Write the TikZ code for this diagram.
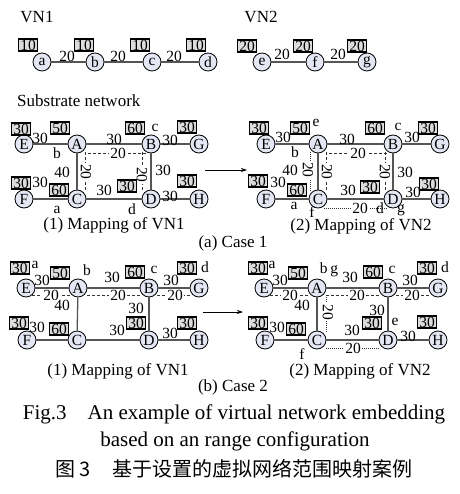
\documentclass[tikz,border=0pt]{standalone}
\usepackage{fontspec}
\setmainfont{Liberation Serif}
\newfontfamily\cjk{Noto Sans CJK SC}
\usetikzlibrary{calc,arrows.meta}
\definecolor{nodefill}{HTML}{E4E7F3}
\definecolor{boxfill}{HTML}{DCDCDC}
\definecolor{linkc}{HTML}{555555}
\newcommand\fs[1]{\fontsize{#1}{#1}\selectfont}
\begin{document}
\begin{tikzpicture}[x=1pt,y=-1pt,
 sn/.style={circle,draw=black,line width=0.8pt,fill=nodefill,minimum size=18pt,inner sep=0pt,font=\fs{15.5}},
 capbox/.style={draw=black,line width=1.1pt,fill=boxfill,inner xsep=1.5pt,inner ysep=0.8pt,font=\fs{15.5}},
 lk/.style={draw=linkc,line width=1.3pt},
 vl/.style={draw=black!80,line width=0.8pt,dash pattern=on 3pt off 2pt},
 vdt/.style={draw=black!80,line width=0.8pt,dash pattern=on 1pt off 1pt},
 num/.style={font=\fs{15.5},inner sep=0pt},
 dnum/.style={num,fill=white,inner xsep=1pt},
 vnum/.style={num,fill=white,rotate=-90,inner xsep=1pt},
 ttl/.style={font=\fs{17},inner sep=0pt},
 capt/.style={font=\fs{21},inner sep=0pt},
 arr/.style={draw=black,line width=0.8pt,-{Stealth[length=6pt,width=4pt]}}
]
\useasboundingbox (0,0) rectangle (459,494);
% ---------------- VN1
\node[ttl] (t1) at (37,17) {VN1};
\node[sn] (va) at (42,62) {a};
\node[sn] (vb) at (95,62) {b};
\node[sn] (vc) at (152,62) {c};
\node[sn] (vd) at (208,62) {d};
\draw[lk] (va) -- (vb); \draw[lk] (vb) -- (vc); \draw[lk] (vc) -- (vd);
\node[capbox] (ka) at (28,45) {10};
\node[capbox] (kb) at (84,45) {10};
\node[capbox] (kc) at (140,45) {10};
\node[capbox] (kd) at (196,45) {10};
\node[num] (lab) at (67,56) {20};
\node[num] (lbc) at (118,56) {20};
\node[num] (lcd) at (174,56) {20};
% ---------------- VN2
\node[ttl] (t2) at (261,17) {VN2};
\node[sn] (ve) at (262,62) {e};
\node[sn] (vf) at (315,62) {f};
\node[sn] (vg) at (367,62) {g};
\draw[lk] (ve) -- (vf); \draw[lk] (vf) -- (vg);
\node[capbox] (ke) at (247,46) {20};
\node[capbox] (kf) at (303,46) {20};
\node[capbox] (kg) at (357,46) {20};
\node[num] (lef) at (282,54) {20};
\node[num] (lfg) at (338,54) {20};
\node[ttl,anchor=west] (sub) at (17,101) {Substrate network};
% ---------------- Case 1 left
\node[sn] (pE) at (24,144) {E};
\node[sn] (pA) at (77,144) {A};
\node[sn] (pB) at (151,144) {B};
\node[sn] (pG) at (199,144) {G};
\node[sn] (pF) at (24,199) {F};
\node[sn] (pC) at (77,199) {C};
\node[sn] (pD) at (151,199) {D};
\node[sn] (pH) at (199,199) {H};
\draw[lk] (pE) -- (pA); \draw[lk] (pA) -- (pB); \draw[lk] (pB) -- (pG);
\draw[lk] (pF) -- (pC); \draw[lk] (pC) -- (pD); \draw[lk] (pD) -- (pH);
\draw[lk] (pA) -- (pC); \draw[lk] (pB) -- (pD);
\draw[vl] ($(pA)+(11,9)$) -- ($(pB)+(-5,9)$);
\draw[vl] ($(pA)+(8,8)$) -- ($(pC)+(8,-8)$);
\draw[vl] ($(pB)+(-9,8)$) -- ($(pD)+(-9,-8)$);
\node[dnum] (p1) at (118,153) {20};
\node[vnum] (p2) at (86,172) {20};
\node[vnum] (p3) at (142,175) {20};
\node[capbox] (pkE) at (21,129) {30};
\node[capbox] (pkA) at (60,128) {50};
\node[capbox] (pkB) at (135,128) {60};
\node[capbox] (pkG) at (187,127) {30};
\node[capbox] (pkF) at (21,183) {30};
\node[capbox] (pkC) at (59,190) {60};
\node[capbox] (pkD) at (127,186) {30};
\node[capbox] (pkH) at (187,181) {30};
\node[num] (p4) at (40,138) {30};
\node[num] (p5) at (57,153) {b};
\node[num] (p6) at (114,139) {30};
\node[num] (p7) at (155,128) {c};
\node[num] (p8) at (170,140) {30};
\node[num] (p9) at (62,172) {40};
\node[num] (p10) at (163,170) {30};
\node[num] (p11) at (40,182) {30};
\node[num] (p12) at (57,210) {a};
\node[num] (p13) at (104,190) {30};
\node[num] (p14) at (132,209) {d};
\node[num] (p15) at (170,196) {30};
\node[ttl] (pm) at (114,225) {(1) Mapping of VN1};
% arrow case 1
\coordinate (a1s) at (205,170);
\coordinate (a1e) at (247,170);
\draw[arr] (a1s) -- (a1e);
% ---------------- Case 1 right
\node[sn] (qE) at (266,144) {E};
\node[sn] (qA) at (318,144) {A};
\node[sn] (qB) at (393,144) {B};
\node[sn] (qG) at (440,144) {G};
\node[sn] (qF) at (266,199) {F};
\node[sn] (qC) at (318,199) {C};
\node[sn] (qD) at (393,199) {D};
\node[sn] (qH) at (440,199) {H};
\draw[lk] (qE) -- (qA); \draw[lk] (qA) -- (qB); \draw[lk] (qB) -- (qG);
\draw[lk] (qF) -- (qC); \draw[lk] (qC) -- (qD); \draw[lk] (qD) -- (qH);
\draw[lk] (qA) -- (qC); \draw[lk] (qB) -- (qD);
\draw[vl] ($(qA)+(11,9)$) -- ($(qB)+(-5,9)$);
\draw[vdt] ($(qA)+(-8,8)$) -- ($(qC)+(-8,-8)$);
\draw[vl] ($(qA)+(8,8)$) -- ($(qC)+(8,-8)$);
\draw[vl] ($(qB)+(-8,8)$) -- ($(qD)+(-8,-8)$);
\draw[vdt] ($(qC)+(6,9)$) -- ($(qD)+(-6,9)$);
\node[dnum] (q1) at (358,153) {20};
\node[vnum] (q2) at (308,170) {20};
\node[vnum] (q3) at (327,172) {20};
\node[vnum] (q4) at (385,172) {20};
\node[dnum] (q5) at (360,208) {20};
\node[capbox] (qkE) at (259,128) {30};
\node[capbox] (qkA) at (300,128) {50};
\node[capbox] (qkB) at (375,128) {60};
\node[capbox] (qkG) at (428,128) {30};
\node[capbox] (qkF) at (258,181) {30};
\node[capbox] (qkC) at (297,190) {60};
\node[capbox] (qkD) at (370,187) {30};
\node[capbox] (qkH) at (429,184) {30};
\node[num] (q6) at (316,123) {e};
\node[num] (q7) at (283,137) {30};
\node[num] (q8) at (295,152) {b};
\node[num] (q9) at (347,139) {30};
\node[num] (q10) at (398,127) {c};
\node[num] (q11) at (412,137) {30};
\node[num] (q12) at (290,170) {40};
\node[num] (q13) at (405,172) {30};
\node[num] (q14) at (278,182) {30};
\node[num] (q15) at (294,206) {a};
\node[num] (q16) at (348,190) {30};
\node[num] (q17) at (413,192) {30};
\node[num] (q18) at (312,212) {f};
\node[num] (q19) at (380,208) {d};
\node[num] (q20) at (401,210) {g};
\node[ttl] (qm) at (361,226) {(2) Mapping of VN2};
\node[ttl] (case1) at (233,243) {(a) Case 1};
% ---------------- Case 2 left
\node[sn] (rE) at (26,288) {E};
\node[sn] (rA) at (78,288) {A};
\node[sn] (rB) at (149,288) {B};
\node[sn] (rG) at (199,288) {G};
\node[sn] (rF) at (27,340) {F};
\node[sn] (rC) at (77,340) {C};
\node[sn] (rD) at (149,340) {D};
\node[sn] (rH) at (199,340) {H};
\draw[lk] (rE) -- (rA); \draw[lk] (rA) -- (rB); \draw[lk] (rB) -- (rG);
\draw[lk] (rF) -- (rC); \draw[lk] (rC) -- (rD); \draw[lk] (rD) -- (rH);
\draw[lk] (rA) -- (rC); \draw[lk] (rB) -- (rD);
\draw[vl] ($(rE)+(6,7)$) -- ($(rA)+(-7,7)$);
\draw[vl] ($(rA)+(9,7)$) -- ($(rB)+(-9,7)$);
\draw[vl] ($(rB)+(8,7)$) -- ($(rG)+(-8,7)$);
\node[dnum] (r1) at (51,295) {20};
\node[dnum] (r2) at (118,295) {20};
\node[dnum] (r3) at (175,295) {20};
\node[capbox] (rkE) at (20,268) {30};
\node[capbox] (rkA) at (60,273) {50};
\node[capbox] (rkB) at (135,272) {60};
\node[capbox] (rkG) at (187,268) {30};
\node[capbox] (rkF) at (19,323) {30};
\node[capbox] (rkC) at (59,329) {60};
\node[capbox] (rkD) at (136,323) {30};
\node[capbox] (rkH) at (187,323) {30};
\node[num] (r4) at (35,265) {a};
\node[num] (r5) at (87,270) {b};
\node[num] (r6) at (154,270) {c};
\node[num] (r7) at (205,267) {d};
\node[num] (r8) at (42,280) {30};
\node[num] (r9) at (112,277) {30};
\node[num] (r10) at (171,280) {30};
\node[num] (r11) at (62,305) {40};
\node[num] (r12) at (136,308) {30};
\node[num] (r13) at (37,327) {30};
\node[num] (r14) at (117,330) {30};
\node[num] (r15) at (170,333) {30};
\node[ttl] (rm) at (118,371) {(1) Mapping of VN1};
% arrow case 2
\coordinate (a2s) at (203,312);
\coordinate (a2e) at (243,312);
\draw[arr] (a2s) -- (a2e);
% ---------------- Case 2 right
\node[sn] (sE) at (264,288) {E};
\node[sn] (sA) at (317,288) {A};
\node[sn] (sB) at (388,288) {B};
\node[sn] (sG) at (438,288) {G};
\node[sn] (sF) at (265,340) {F};
\node[sn] (sC) at (317,340) {C};
\node[sn] (sD) at (388,340) {D};
\node[sn] (sH) at (438,340) {H};
\draw[lk] (sE) -- (sA); \draw[lk] (sA) -- (sB); \draw[lk] (sB) -- (sG);
\draw[lk] (sF) -- (sC); \draw[lk] (sC) -- (sD); \draw[lk] (sD) -- (sH);
\draw[lk] (sA) -- (sC); \draw[lk] (sB) -- (sD);
\draw[vl] ($(sE)+(6,7)$) -- ($(sA)+(-7,7)$);
\draw[vl] ($(sA)+(9,7)$) -- ($(sB)+(-9,7)$);
\draw[vl] ($(sB)+(8,7)$) -- ($(sG)+(-8,7)$);
\draw[vdt] ($(sA)+(9,7)$) -- ($(sC)+(9,-7)$);
\draw[vdt] ($(sC)+(9,8)$) -- ($(sD)+(-8,8)$);
\node[dnum] (s1) at (290,295) {20};
\node[dnum] (s2) at (357,295) {20};
\node[dnum] (s3) at (412,295) {20};
\node[vnum] (s4) at (328,312) {20};
\node[dnum] (s5) at (353,348) {20};
\node[capbox] (skE) at (258,268) {30};
\node[capbox] (skA) at (298,273) {50};
\node[capbox] (skB) at (373,272) {60};
\node[capbox] (skG) at (427,268) {30};
\node[capbox] (skF) at (258,323) {30};
\node[capbox] (skC) at (296,329) {60};
\node[capbox] (skD) at (372,323) {30};
\node[capbox] (skH) at (427,322) {30};
\node[num] (s6) at (272,265) {a};
\node[num] (s7) at (329,270) {b\,g};
\node[num] (s8) at (392,270) {c};
\node[num] (s9) at (445,267) {d};
\node[num] (s10) at (280,280) {30};
\node[num] (s11) at (350,277) {30};
\node[num] (s12) at (410,280) {30};
\node[num] (s13) at (302,305) {40};
\node[num] (s14) at (377,310) {30};
\node[num] (s15) at (277,327) {30};
\node[num] (s16) at (352,330) {30};
\node[num] (s17) at (395,322) {e};
\node[num] (s18) at (408,336) {30};
\node[num] (s19) at (302,354) {f};
\node[ttl] (sm) at (360,371) {(2) Mapping of VN2};
\node[ttl] (case2) at (233,387) {(b) Case 2};
% ---------------- captions
\node[capt] (c1) at (234,414) {Fig.3\quad An example of virtual network embedding};
\node[capt] (c2) at (235,441) {based on an range configuration};
\node[inner sep=0pt,font=\fs{20}\cjk,anchor=west] (c3) at (55,469) {图 3\hspace{22pt}基于设置的虚拟网络范围映射案例};
\end{tikzpicture}
\end{document}
